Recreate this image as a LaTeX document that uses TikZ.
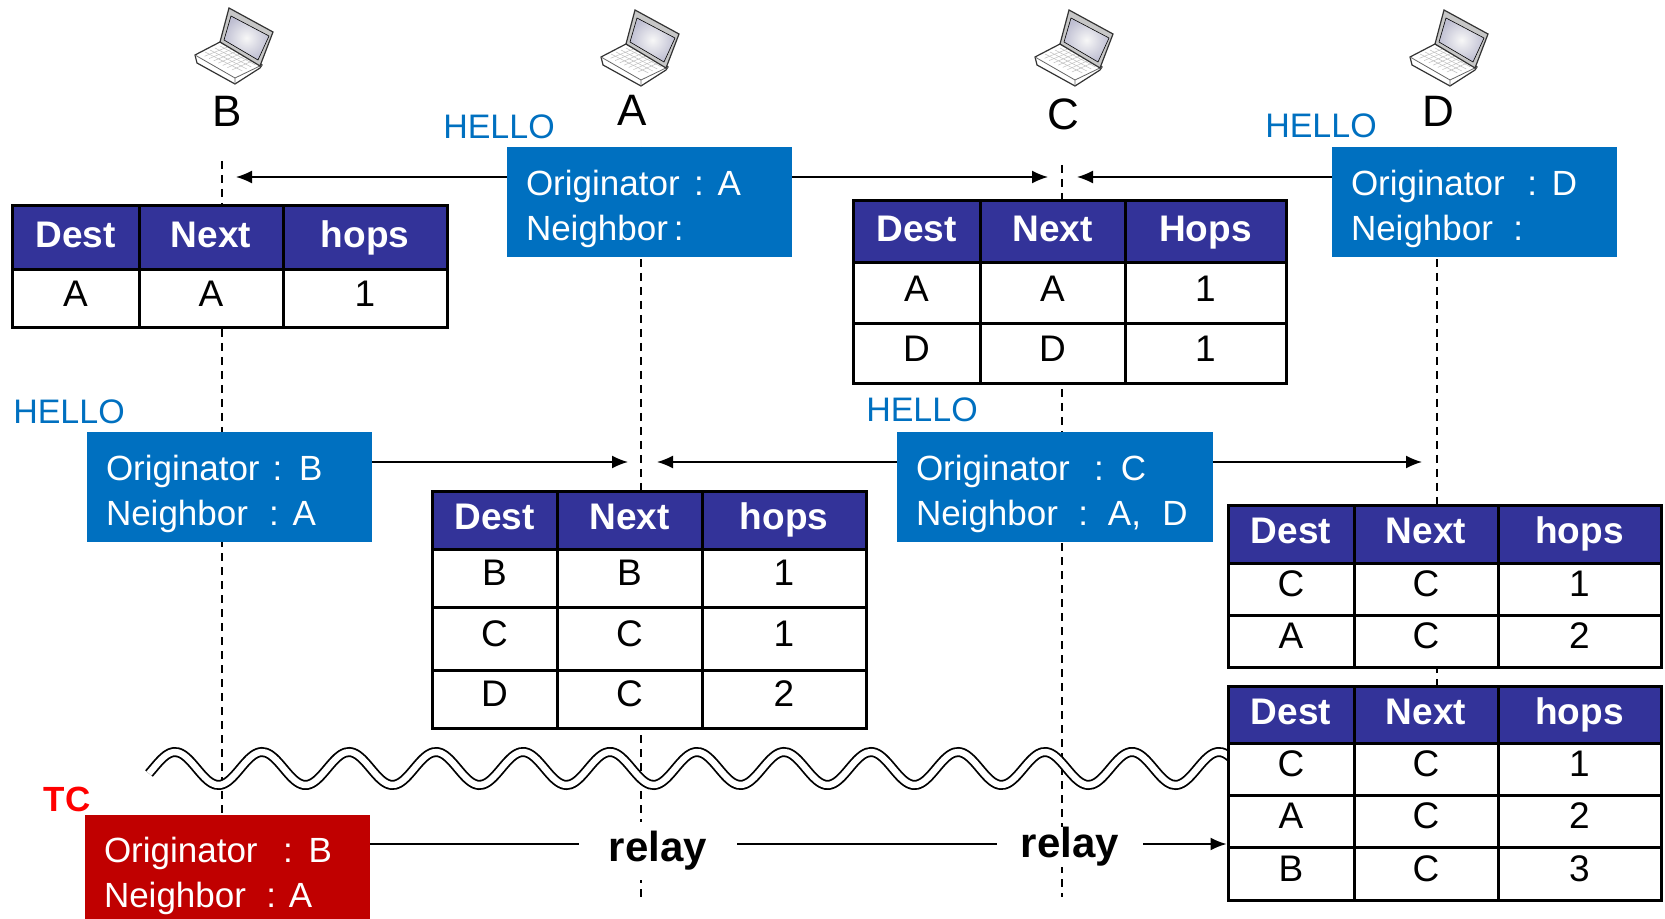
\documentclass[tikz,border=0pt]{standalone}
\usepackage{fontspec}
\setmainfont{Liberation Sans}
\usetikzlibrary{arrows.meta}
\definecolor{hellob}{HTML}{0070C0}
\definecolor{headb}{HTML}{333399}
\definecolor{tcred}{HTML}{C00000}
\definecolor{tcword}{HTML}{FF0000}

\tikzset{
  head/.style={draw=black,line width=1.5pt,fill=headb,text=white,inner sep=0pt,
    font=\fontsize{18.5}{20}\selectfont\bfseries,text height=.95em,text depth=0pt},
  cell/.style={draw=black,line width=1.5pt,fill=white,inner sep=0pt,
    font=\fontsize{18.5}{20}\selectfont,text height=.76em,text depth=0pt},
  msgbox/.style={fill=hellob,text=white,inner sep=0pt,minimum height=55pt,minimum width=142.5pt,
    text width=123.5pt,align=left,font=\fontsize{17.5}{22.5}\selectfont},
  station/.style={font=\fontsize{22}{24}\selectfont,inner sep=0pt},
  hello/.style={text=hellob,font=\fontsize{17}{20}\selectfont,inner sep=0pt},
  relay/.style={fill=white,font=\fontsize{21}{24}\selectfont\bfseries,inner ysep=0pt},
  lifeline/.style={line width=.9pt,dash pattern=on 4pt off 3pt},
  msg/.style={line width=.8pt,-{Latex[length=8pt,width=6.5pt]}},
  pics/laptop/.style={code={
    \draw[line width=.6pt,fill=white,draw=black!80] (25,55) -- (50,42) -- (92,65) -- (90,68) -- (65,84) -- (27,63) -- cycle;
    \draw[line width=.4pt,draw=black!60] (25,55) -- (65,78) -- (92,65) (65,78) -- (65,84);
    \foreach \t in {.2,.4,.6,.8}
      \draw[line width=.25pt,draw=black!25] ({30+\t*25},{54-\t*10}) -- ({68+\t*22},{73-\t*10});
    \foreach \t in {.12,.24,.36,.48,.6,.72,.84}
      \draw[line width=.25pt,draw=black!25] ({30+\t*38},{54+\t*19}) -- ({55+\t*35},{44+\t*19});
    \draw[line width=.6pt,fill=black!22,draw=black!80] (59,8) -- (103,32) -- (90,66) -- (50,42) -- cycle;
    \draw[line width=.3pt,inner color=black!3,outer color=blue!30!black!25] (61,16) -- (99,36) -- (88,60) -- (54,40) -- cycle;
  }}
}

% one row of a routing table, columns come from \colA .. \colD
\newcommand{\tablerow}[7]{
  \node[#1,minimum width={(\colB-\colA)*.5pt},minimum height={(#4-#3)*.5pt}] (#2a) at ({(\colA+\colB)/2},{(#3+#4)/2}) {#5};
  \node[#1,minimum width={(\colC-\colB)*.5pt},minimum height={(#4-#3)*.5pt}] (#2b) at ({(\colB+\colC)/2},{(#3+#4)/2}) {#6};
  \node[#1,minimum width={(\colD-\colC)*.5pt},minimum height={(#4-#3)*.5pt}] (#2c) at ({(\colC+\colD)/2},{(#3+#4)/2}) {#7};
}

\begin{document}
\begin{tikzpicture}[x=.5pt,y=-.5pt]
\useasboundingbox (0,0) rectangle (1665,919);

\pic at (170,0) {laptop};
\pic at (576,2) {laptop};
\pic at (1010,2) {laptop};
\pic at (1385,2) {laptop};
\node[station] (nameB) at (227,111) {B};
\node[station] (nameA) at (632,110) {A};
\node[station] (nameC) at (1063,114) {C};
\node[station] (nameD) at (1438,111) {D};

\coordinate (lifeBtop) at (222,161);
\coordinate (lifeBend) at (222,815);
\coordinate (lifeAtop) at (641,147);
\coordinate (lifeAend) at (641,897);
\coordinate (lifeCtop) at (1062,165);
\coordinate (lifeCend) at (1062,897);
\coordinate (lifeDtop) at (1437,147);
\coordinate (lifeDend) at (1437,686);
\draw[lifeline] (lifeBtop) -- (lifeBend);
\draw[lifeline] (lifeAtop) -- (lifeAend);
\draw[lifeline] (lifeCtop) -- (lifeCend);
\draw[lifeline] (lifeDtop) -- (lifeDend);

\draw[line width=.9pt,double,double distance=3.2pt] plot[domain=149:1230,samples=260,smooth] (\x,{768.5-16.5*cos(4.138*(\x-175))});

% tables
\def\colA{12}\def\colB{139}\def\colC{283}\def\colD{447}
\tablerow{head}{tbh}{206}{270}{Dest}{Next}{hops}
\tablerow{cell}{tbr}{270}{328}{A}{A}{1}

\def\colA{853}\def\colB{980}\def\colC{1125}\def\colD{1286}
\tablerow{head}{tch}{201}{263}{Dest}{Next}{Hops}
\tablerow{cell}{tcr}{263}{324}{A}{A}{1}
\tablerow{cell}{tcs}{324}{384}{D}{D}{1}

\def\colA{432}\def\colB{557}\def\colC{702}\def\colD{866}
\tablerow{head}{tah}{491}{549}{Dest}{Next}{hops}
\tablerow{cell}{tar}{549}{607}{B}{B}{1}
\tablerow{cell}{tas}{607}{670}{C}{C}{1}
\tablerow{cell}{tat}{670}{728}{D}{C}{2}

\def\colA{1228}\def\colB{1354}\def\colC{1498}\def\colD{1661}
\tablerow{head}{tdh}{505}{563}{Dest}{Next}{hops}
\tablerow{cell}{tdr}{563}{615}{C}{C}{1}
\tablerow{cell}{tds}{615}{667}{A}{C}{2}

\tablerow{head}{teh}{686}{743}{Dest}{Next}{hops}
\tablerow{cell}{ter}{743}{795}{C}{C}{1}
\tablerow{cell}{tes}{795}{847}{A}{C}{2}
\tablerow{cell}{tet}{847}{900}{B}{C}{3}

% messages
\node[msgbox] (boxA) at (649.5,202) {\rule{0pt}{20pt}Originator\hspace{7.2pt}:\hspace{6.9pt}A\\Neighbor\hspace{2.9pt}:};
\node[msgbox] (boxD) at (1474.5,202) {\rule{0pt}{20pt}Originator\hspace{11.4pt}:\hspace{7.4pt}D\\Neighbor\hspace{10.2pt}:};
\node[msgbox] (boxB) at (229.5,487) {\rule{0pt}{20pt}Originator\hspace{6.5pt}:\hspace{8.4pt}B\\Neighbor\hspace{10.6pt}:\hspace{6.9pt}A};
\node[msgbox,minimum width=158pt,text width=139pt] (boxC) at (1055,487) {\rule{0pt}{20pt}Originator\hspace{12.2pt}:\hspace{8.5pt}C\\Neighbor\hspace{10.2pt}:\hspace{9.9pt}A,\hspace{10.7pt}D};
\node[msgbox,fill=tcred,minimum height=52pt] (boxT) at (227.5,867) {\rule{0pt}{22pt}Originator\hspace{12.7pt}:\hspace{7.9pt}B\\Neighbor\hspace{10.2pt}:\hspace{6.4pt}A};

\node[hello] (helloA) at (499,127) {HELLO};
\node[hello] (helloD) at (1321,126) {HELLO};
\node[hello] (helloB) at (69,412) {HELLO};
\node[hello] (helloC) at (922,410) {HELLO};
\node[hello,text=tcword,font=\fontsize{17.5}{20}\selectfont\bfseries] (wordTC) at (67,799) {TC};

\coordinate (toB) at (236,177);
\coordinate (toC) at (1048,177);
\coordinate (toCd) at (1077,177);
\coordinate (toA) at (628,462);
\coordinate (toAc) at (657,462);
\coordinate (toD) at (1422,462);
\draw[msg] (boxA.west |- toB) -- (toB);
\draw[msg] (boxA.east |- toC) -- (toC);
\draw[msg] (boxD.west |- toCd) -- (toCd);
\draw[msg] (boxB.east |- toA) -- (toA);
\draw[msg] (boxC.west |- toAc) -- (toAc);
\draw[msg] (boxC.east |- toD) -- (toD);

\node[relay,inner xsep=15pt,inner ysep=4.5pt] (relay1) at (658,851) {relay};
\node[relay,inner xsep=12pt] (relay2) at (1070,847) {relay};
\coordinate (relayline) at (0,844);
\draw[line width=.8pt] (boxT.east |- relayline) -- (relay1.west |- relayline);
\draw[line width=.8pt] (relay1.east |- relayline) -- (relay2.west |- relayline);
\draw[msg] (relay2.east |- relayline) -- (tesa.west |- relayline);
\end{tikzpicture}
\end{document}
